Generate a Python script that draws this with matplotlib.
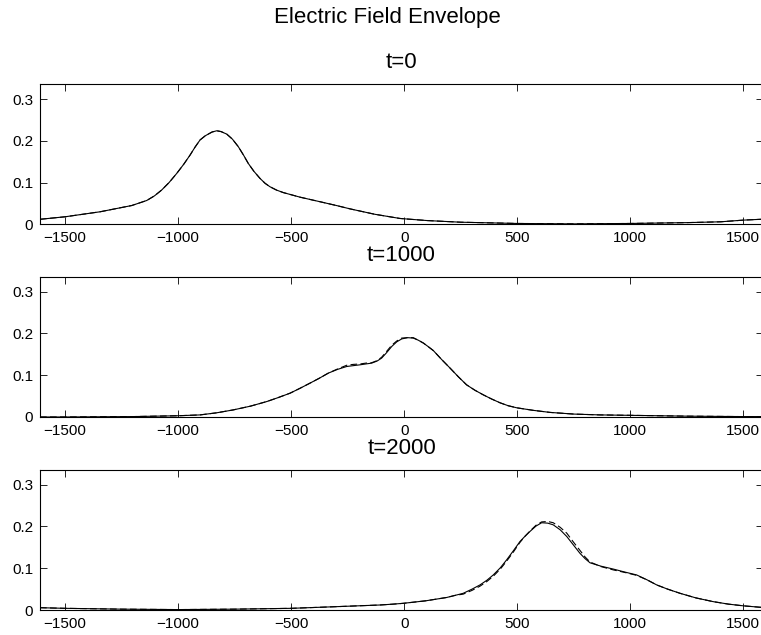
import matplotlib
matplotlib.use('Agg')
import matplotlib.pyplot as plt

plt.rcParams['font.family'] = ['Liberation Sans', 'DejaVu Sans']

# envelope, one solid and one dashed curve per time
x_t0 = [-1611, -1500, -1345, -1205, -1139, -1105, -1073, -1040, -1006, -975, -947,
        -925, -903, -880, -850, -829, -810, -785, -760, -734, -710, -690, -665,
        -638, -615, -594, -565, -535, -461, -372, -300, -240, -130, -19, 100,
        250, 500, 750, 1000, 1250, 1400, 1500, 1578]
e_t0 = [0.012, 0.018, 0.030, 0.045, 0.057, 0.068, 0.082, 0.100, 0.122, 0.144, 0.166,
        0.185, 0.202, 0.212, 0.221, 0.224, 0.222, 0.216, 0.204, 0.186, 0.165, 0.146, 0.127,
        0.110, 0.098, 0.090, 0.082, 0.076, 0.065, 0.054, 0.045, 0.037, 0.024, 0.014, 0.009,
        0.005, 0.002, 0.001, 0.002, 0.004, 0.006, 0.010, 0.012]
e_t0_dash = e_t0

x_t1000 = [-1611, -1500, -1200, -1000, -903, -830, -756, -680, -608, -560, -505,
           -460, -417, -375, -336, -295, -254, -225, -195, -170, -144, -120, -100,
           -78, -55, -33, -11, 15, 40, 62, 85, 105, 129, 165, 203, 240, 276, 313,
           350, 387, 424, 460, 498, 570, 645, 750, 866, 1000, 1250, 1500, 1578]
e_t1000 = [0.000, 0.000, 0.001, 0.003, 0.005, 0.010, 0.017, 0.026, 0.037, 0.046, 0.057,
           0.069, 0.081, 0.093, 0.105, 0.114, 0.121, 0.123, 0.125, 0.127, 0.129, 0.134, 0.141,
           0.154, 0.169, 0.180, 0.187, 0.190, 0.189, 0.184, 0.177, 0.169, 0.159, 0.138, 0.117,
           0.096, 0.077, 0.064, 0.053, 0.043, 0.034, 0.027, 0.022, 0.016, 0.011, 0.007, 0.005,
           0.004, 0.002, 0.001, 0.001]
e_t1000_dash = [0.000, 0.000, 0.001, 0.003, 0.005, 0.010, 0.017, 0.026, 0.037, 0.046, 0.057,
                0.069, 0.081, 0.093, 0.105, 0.115, 0.124, 0.126, 0.127, 0.129, 0.130, 0.135, 0.143,
                0.157, 0.172, 0.182, 0.189, 0.190, 0.190, 0.184, 0.177, 0.169, 0.159, 0.138, 0.117,
                0.096, 0.077, 0.064, 0.053, 0.043, 0.034, 0.027, 0.022, 0.016, 0.011, 0.007, 0.005,
                0.004, 0.002, 0.001, 0.001]

x_t2000 = [-1611, -1500, -1250, -1000, -750, -500, -300, -107, -50, -4, 95, 188,
           225, 261, 300, 335, 365, 394, 425, 453, 483, 512, 535, 556, 583, 608,
           635, 659, 690, 719, 748, 777, 800, 822, 870, 925, 975, 1028, 1075, 1117,
           1165, 1220, 1290, 1367, 1435, 1500, 1578]
e_t2000 = [0.0055, 0.004, 0.002, 0.001, 0.002, 0.004, 0.008, 0.012, 0.014, 0.016, 0.022, 0.030,
           0.035, 0.040, 0.050, 0.060, 0.071, 0.084, 0.101, 0.120, 0.142, 0.164, 0.177, 0.188,
           0.201, 0.209, 0.208, 0.204, 0.192, 0.176, 0.156, 0.136, 0.123, 0.113, 0.105, 0.098,
           0.091, 0.084, 0.072, 0.060, 0.050, 0.040, 0.029, 0.020, 0.014, 0.010, 0.0064]
e_t2000_dash = [0.0055, 0.004, 0.002, 0.001, 0.002, 0.004, 0.008, 0.012, 0.014, 0.016, 0.022, 0.030,
                0.035, 0.038, 0.047, 0.057, 0.068, 0.081, 0.098, 0.117, 0.139, 0.162, 0.177, 0.189,
                0.203, 0.211, 0.212, 0.209, 0.198, 0.184, 0.163, 0.143, 0.127, 0.115, 0.104, 0.096,
                0.090, 0.083, 0.072, 0.060, 0.050, 0.040, 0.029, 0.020, 0.014, 0.010, 0.0064]

titles = ['t=0', 't=1000', 't=2000']
x_ticks = [-1500, -1000, -500, 0, 500, 1000, 1500]
y_ticks = [0, 0.1, 0.2, 0.3]
y_ticklabels = ['0', '0.1', '0.2', '0.3']

panels = [(x_t0, e_t0, e_t0_dash), (x_t1000, e_t1000, e_t1000_dash), (x_t2000, e_t2000, e_t2000_dash)]

W, H = 761, 635
fig = plt.figure(figsize=(W / 100, H / 100), dpi=100)

left, right = 40, 763
bottoms = [224.3, 417, 610]
height = 140.3

for i, (xs, solid, dashed) in enumerate(panels):
    ax = fig.add_axes([left / W, 1 - bottoms[i] / H, (right - left) / W, height / H])
    ax.plot(xs, dashed, color='black', linestyle='--', linewidth=0.8, dashes=(6, 3))
    ax.plot(xs, solid, color='black', linewidth=0.8)
    ax.set_xlim(-1611, 1587)
    ax.set_ylim(0, 0.336)
    ax.set_xticks(x_ticks)
    ax.set_yticks(y_ticks)
    ax.set_yticklabels(y_ticklabels)
    ax.tick_params(direction='in', top=True, right=True, length=4.8, width=0.6,
                   labelsize=11, pad=5)
    for s in ax.spines.values():
        s.set_linewidth(0.8)
    ax.text(0.5, 1 + 21 / height, titles[i], transform=ax.transAxes,
            ha='center', va='center', fontsize=16)

fig.text(387.5 / W, 1 - 17 / H, 'Electric Field Envelope', ha='center', va='center', fontsize=16)

fig.savefig('out.png', dpi=100)
